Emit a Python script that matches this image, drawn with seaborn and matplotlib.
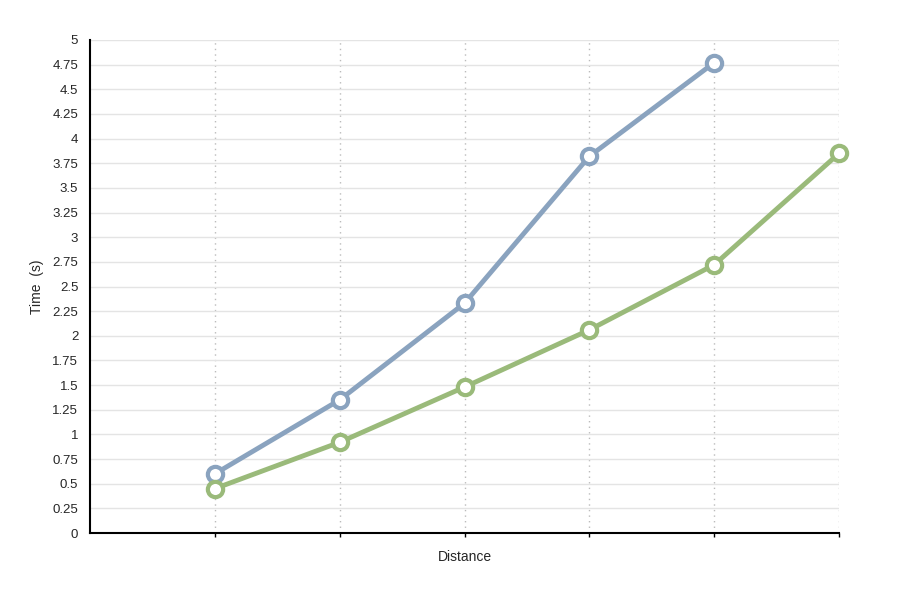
import pandas as pd
import matplotlib
matplotlib.use("Agg")
import matplotlib.pyplot as plt
import seaborn as sns

# values
distance_a = [1, 2, 3, 4, 5]
time_a = [0.60, 1.35, 2.33, 3.82, 4.77]
distance_b = [1, 2, 3, 4, 5, 6]
time_b = [0.45, 0.92, 1.48, 2.06, 2.72, 3.85]
y_ticks = [0, 0.25, 0.5, 0.75, 1, 1.25, 1.5, 1.75, 2, 2.25, 2.5, 2.75,
           3, 3.25, 3.5, 3.75, 4, 4.25, 4.5, 4.75, 5]

df = pd.concat([
    pd.DataFrame({"Distance": distance_a, "Time": time_a, "series": "A"}),
    pd.DataFrame({"Distance": distance_b, "Time": time_b, "series": "B"}),
])

sns.set_style("white")
plt.rcParams["font.family"] = ["Liberation Sans", "DejaVu Sans"]

fig = plt.figure(figsize=(9.1, 5.93), dpi=100)
ax = fig.add_axes([90 / 910, 60 / 593, 749 / 910, 493 / 593])

sns.lineplot(
    data=df, x="Distance", y="Time", hue="series",
    palette={"A": "#8aa3bf", "B": "#9aba7a"},
    marker="o", markersize=11, markerfacecolor="white",
    markeredgewidth=3, linewidth=3.5, legend=False, ax=ax,
)
for line in ax.get_lines():
    line.set_markeredgecolor(line.get_color())
    line.set_clip_on(False)

ax.set_xlim(0, 6)
ax.set_ylim(0, 5)
ax.set_yticks(y_ticks)
ax.set_yticklabels([f"{t:g}" for t in y_ticks])
ax.set_xticks(range(1, 7))
ax.set_xticklabels([])
ax.grid(axis="y", color="#e4e4e4", linewidth=1)
ax.grid(axis="x", color="#bbbbbb", linestyle=(0, (1, 3)), linewidth=1)
ax.set_axisbelow(True)
for side in ["top", "right"]:
    ax.spines[side].set_visible(False)
for side in ["left", "bottom"]:
    ax.spines[side].set_color("black")
    ax.spines[side].set_linewidth(1.5)
ax.tick_params(axis="x", bottom=True, length=3, width=1, color="black")
ax.tick_params(axis="y", left=False, labelsize=9.5, pad=5)
ax.set_xlabel("Distance", fontsize=10, labelpad=6)
ax.set_ylabel("Time  (s)", fontsize=10, labelpad=6)

fig.savefig("out.png", dpi=100)
